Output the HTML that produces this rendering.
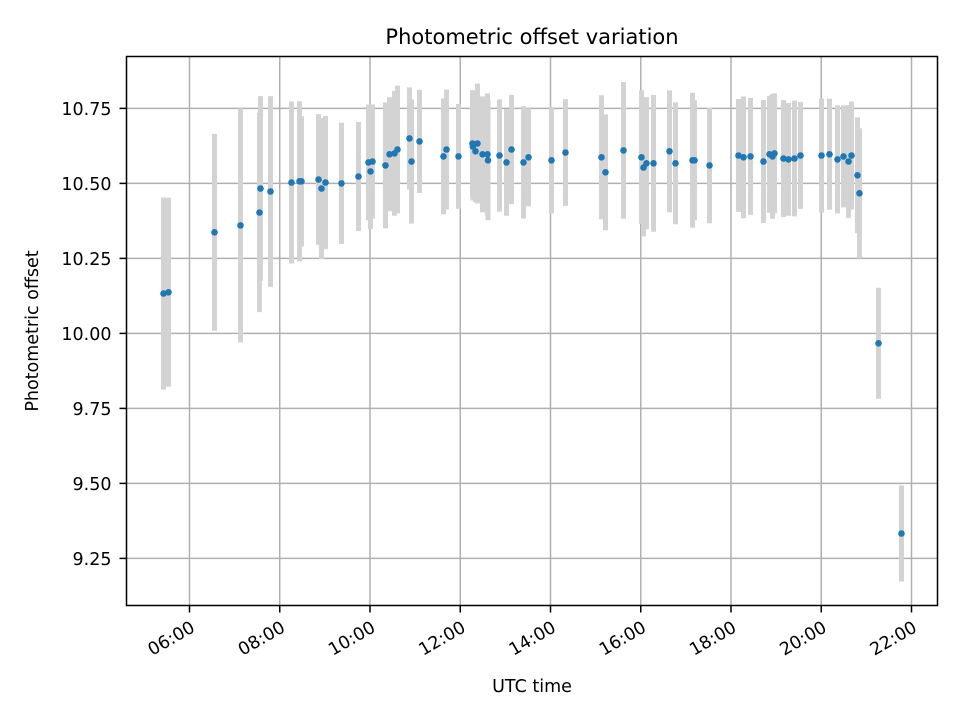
<!DOCTYPE html>
<html><head><meta charset="utf-8"><style>
html,body{margin:0;padding:0;background:#fff;}
svg text{font-family:"DejaVu Sans","Liberation Sans",sans-serif;fill:#000;}
</style></head><body>
<svg id="chart" width="960" height="720" xmlns="http://www.w3.org/2000/svg">
<rect x="0" y="0" width="960" height="720" fill="#fff"/>
<text x="532" y="44" font-size="21" text-anchor="middle">Photometric offset variation</text>
<text x="532" y="692" font-size="17.5" text-anchor="middle">UTC time</text>
<text x="38" y="331" font-size="17.5" text-anchor="middle" transform="rotate(-90 38 331)">Photometric offset</text>
<g id="grid"></g>
<g id="bars"></g>
<g id="pts"></g>
<g id="ticks"></g>
<rect x="126.5" y="56.5" width="811" height="549" fill="none" stroke="#000" stroke-width="1.5"/>
</svg>
<script>
const times = [5.424,5.535,6.554,7.130,7.551,7.573,7.795,8.260,8.438,8.482,8.859,8.925,9.014,9.368,9.745,9.967,10.011,10.055,10.343,10.432,10.543,10.609,10.875,10.920,11.097,11.629,11.695,11.961,12.271,12.280,12.382,12.338,12.493,12.604,12.615,12.870,13.025,13.136,13.402,13.513,14.022,14.332,15.130,15.219,15.618,16.017,16.061,16.127,16.283,16.637,16.770,17.147,17.191,17.524,18.166,18.277,18.432,18.720,18.853,18.920,18.964,19.163,19.274,19.407,19.540,20.006,20.183,20.360,20.493,20.604,20.670,20.803,20.847,21.268,21.778];
const offsets = [10.133,10.137,10.337,10.360,10.403,10.483,10.473,10.503,10.507,10.507,10.513,10.483,10.503,10.500,10.523,10.570,10.540,10.573,10.560,10.597,10.600,10.613,10.650,10.573,10.640,10.590,10.613,10.590,10.633,10.623,10.633,10.607,10.597,10.597,10.577,10.593,10.570,10.613,10.570,10.587,10.577,10.603,10.587,10.537,10.610,10.587,10.553,10.567,10.567,10.607,10.567,10.577,10.577,10.560,10.593,10.587,10.590,10.573,10.597,10.590,10.600,10.583,10.580,10.583,10.593,10.593,10.597,10.580,10.590,10.573,10.593,10.527,10.467,9.967,9.333];
const errors = [0.32,0.315,0.328,0.39,0.332,0.308,0.318,0.27,0.267,0.217,0.218,0.235,0.222,0.202,0.182,0.193,0.192,0.19,0.21,0.19,0.208,0.213,0.17,0.207,0.172,0.193,0.2,0.175,0.178,0.18,0.2,0.17,0.193,0.203,0.2,0.187,0.178,0.182,0.187,0.163,0.177,0.178,0.207,0.193,0.228,0.223,0.23,0.22,0.228,0.203,0.203,0.225,0.2,0.193,0.188,0.203,0.195,0.205,0.195,0.208,0.2,0.195,0.188,0.193,0.178,0.19,0.185,0.18,0.17,0.188,0.18,0.193,0.217,0.185,0.16];
const xTicks = [6,8,10,12,14,16,18,20,22];
const xTickLabels = ["06:00","08:00","10:00","12:00","14:00","16:00","18:00","20:00","22:00"];
const yTicks = [9.25,9.5,9.75,10.0,10.25,10.5,10.75];
const yTickLabels = ["9.25","9.50","9.75","10.00","10.25","10.50","10.75"];

const NS="http://www.w3.org/2000/svg";
const X0=126.5,X1=937.5,Y0=56.5,Y1=605.5;
const xMin=4.604,xMax=22.576,yMin=9.093,yMax=10.923;
function xs(h){return X0+(h-xMin)/(xMax-xMin)*(X1-X0);}
function ys(v){return Y1-(v-yMin)/(yMax-yMin)*(Y1-Y0);}
function mk(tag,attrs,parent){const e=document.createElementNS(NS,tag);for(const k in attrs)e.setAttribute(k,attrs[k]);document.getElementById(parent).appendChild(e);return e;}

xTicks.forEach((t,i)=>{
  const x=xs(t);
  const g=mk('line',{x1:x,x2:x,y1:Y0,y2:Y1,stroke:'#b0b0b0','stroke-width':1.5},'grid');
  
  
  const tk=mk('line',{x1:x,x2:x,y1:Y1,y2:Y1+7,stroke:'#000','stroke-width':1.5},'ticks');
  
  
  const ay=Y1+14;
  const tx=mk('text',{x:x,y:ay+13,'font-size':17.5,'text-anchor':'end',transform:'rotate(-30 '+x+' '+ay+')'},'ticks');
  tx.textContent=xTickLabels[i];
  
  
});
yTicks.forEach((t,i)=>{
  const y=ys(t);
  const g=mk('line',{x1:X0,x2:X1,y1:y,y2:y,stroke:'#b0b0b0','stroke-width':1.5},'grid');
  
  
  const tk=mk('line',{x1:X0-7,x2:X0,y1:y,y2:y,stroke:'#000','stroke-width':1.5},'ticks');
  
  
  const tx=mk('text',{x:X0-15,y:y+6.5,'font-size':17.5,'text-anchor':'end'},'ticks');
  tx.textContent=yTickLabels[i];
  
  
});
times.forEach((t,i)=>{
  const x=xs(t);
  const b=mk('line',{x1:x,x2:x,y1:ys(offsets[i]+errors[i]),y2:ys(offsets[i]-errors[i]),stroke:'#d3d3d3','stroke-width':5},'bars');
  
  
});
times.forEach((t,i)=>{
  const p=mk('circle',{cx:xs(t),cy:ys(offsets[i]),r:3.3,fill:'#1f77b4'},'pts');
  
  
});
</script>
</body></html>
